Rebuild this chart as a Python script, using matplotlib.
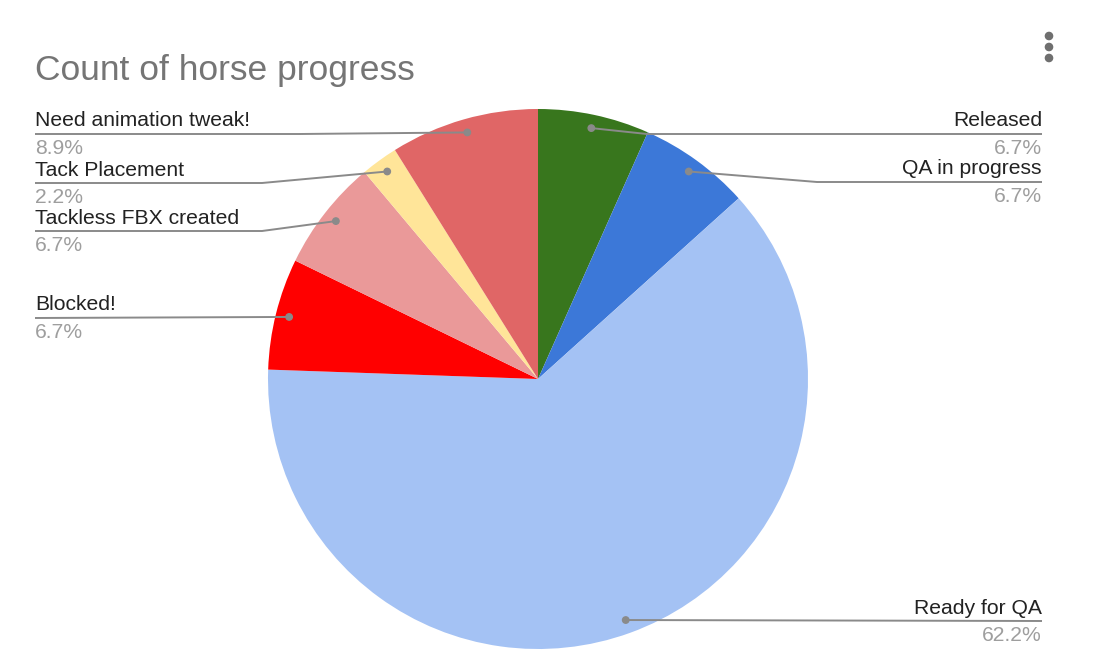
import matplotlib
matplotlib.use("Agg")
import matplotlib.pyplot as plt
from matplotlib.patches import Circle
import numpy as np

# Chart data
categories = ["Released", "QA in progress", "Ready for QA", "Blocked!",
              "Tackless FBX created", "Tack Placement", "Need animation tweak!"]
counts = [3, 3, 28, 3, 3, 1, 4]
colors = ["#38761d", "#3c78d8", "#a4c2f4", "#ff0000",
          "#ea9999", "#ffe599", "#e06666"]
title = "Count of horse progress"

# Layout (pixel units, y measured from the top of the canvas)
W, H = 1112, 668
CX, CY, R = 538, 379, 270
# side, y of label rule, x of leader elbow
label_layout = {
    "Released": ("right", 134, 647),
    "QA in progress": ("right", 182, 817),
    "Ready for QA": ("right", 621, None),
    "Blocked!": ("left", 318, None),
    "Tackless FBX created": ("left", 231, 262),
    "Tack Placement": ("left", 183, 262),
    "Need animation tweak!": ("left", 134, 300),
}
LEFT_X, RIGHT_X = 35, 1042

plt.rcParams["font.family"] = ["Liberation Sans", "DejaVu Sans"]

fig = plt.figure(figsize=(W / 100, H / 100), dpi=100)
ax = fig.add_axes([0, 0, 1, 1])


def py(y):
    return H - y


wedges, _ = ax.pie(counts, colors=colors, startangle=90, counterclock=False,
                   center=(CX, py(CY)), radius=R,
                   wedgeprops=dict(linewidth=0))
ax.set_xlim(0, W)
ax.set_ylim(0, H)
ax.set_aspect("equal")
ax.axis("off")

total = sum(counts)
line_col = "#8a8a8a"
for w, name, n in zip(wedges, categories, counts):
    mid = np.deg2rad((w.theta1 + w.theta2) / 2)
    dx = CX + 0.95 * R * np.cos(mid)
    dy = py(CY) + 0.95 * R * np.sin(mid)
    side, ly, ex = label_layout[name]
    ly_d = py(ly)
    tx = LEFT_X if side == "left" else RIGHT_X
    if ex is None:
        xs, ys = [dx, tx], [dy, ly_d]
    else:
        xs, ys = [dx, ex, tx], [dy, ly_d, ly_d]
    ax.plot(xs, ys, color=line_col, lw=1.4, solid_capstyle="butt", zorder=3)
    ax.add_patch(Circle((dx, dy), 3.2, color=line_col, zorder=4))
    ha = "left" if side == "left" else "right"
    ax.text(tx, ly_d + 7.5, name, ha=ha, va="baseline", fontsize=15.2,
            color="#222222")
    ax.text(tx, ly_d - 20, f"{100 * n / total:.1f}%", ha=ha, va="baseline",
            fontsize=15.2, color="#9e9e9e")

ax.text(35, py(80), title, ha="left", va="baseline", fontsize=25.5,
        color="#757575")

# overflow menu dots
for yy in (36, 47, 58):
    ax.add_patch(Circle((1049, py(yy)), 3.6, color="#6f6f6f", zorder=5))

fig.savefig("out.png", dpi=100, facecolor="white")
